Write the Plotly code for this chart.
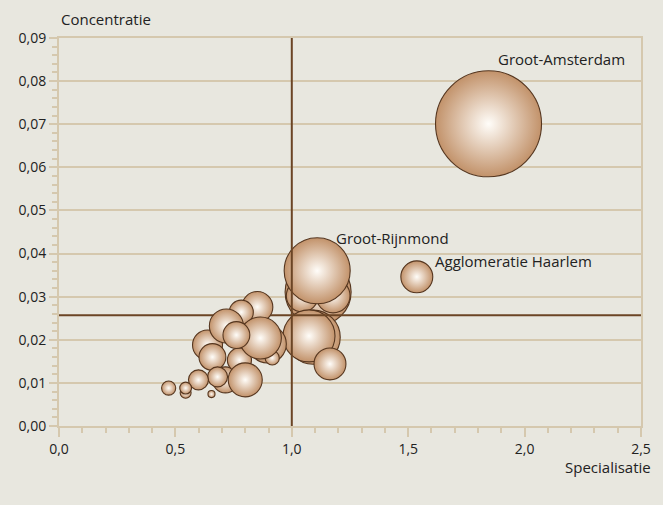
import plotly.graph_objects as go

# ---- data (back-to-front drawing order) ----
# bubbles right of the national average (drawn beneath the reference lines)
regio_r = ["", "", "", "Groot-Rijnmond", "", "", "", "Agglomeratie Haarlem", "Groot-Amsterdam"]
spec_r = [1.113, 1.045, 1.177, 1.109, 1.092, 1.074, 1.164, 1.537, 1.845]
conc_r = [0.0311, 0.0302, 0.0302, 0.0360, 0.0206, 0.0209, 0.0144, 0.0346, 0.0701]
werk_r = [218, 51, 58, 218, 146, 135, 51, 51, 562]

# bubbles left of the national average (drawn on top of the reference lines)
spec_l = [0.895, 0.638, 0.715, 0.775, 0.916, 0.544, 0.852, 0.783, 0.719, 0.865,
          0.762, 0.659, 0.681, 0.599, 0.800, 0.471, 0.544, 0.655]
conc_l = [0.0190, 0.0188, 0.0107, 0.0153, 0.0158, 0.0077, 0.0276, 0.0264, 0.0232, 0.0204,
          0.0211, 0.0160, 0.0114, 0.0107, 0.0107, 0.0088, 0.0088, 0.0074]
werk_l = [72, 45, 34, 29, 10, 6, 48, 29, 58, 88,
          36, 36, 20, 20, 58, 10, 7, 2.5]

ref_spec = 1.0
ref_conc = 0.0257
x_range = [0.0, 2.5]
y_range = [0.0, 0.09]

BG = "#e8e7df"
GRID = "#d5c8ae"
EDGE = "#c2926a"
CENTER = "#fffdf9"
OUTLINE = "#55361f"
REF = "#6b4525"
FONT = "Open Sans"

marker_style = dict(
    color=EDGE,
    sizemode="area",
    sizeref=0.1,
    line=dict(color=OUTLINE, width=1.1),
    gradient=dict(type="radial", color=CENTER),
    opacity=1,
)

fig = go.Figure()
fig.add_trace(go.Scatter(x=spec_r, y=conc_r, mode="markers",
                         marker=dict(size=werk_r, **marker_style),
                         hoverinfo="skip", showlegend=False))
fig.add_trace(go.Scatter(x=[ref_spec, ref_spec], y=y_range, mode="lines",
                         line=dict(color=REF, width=2), hoverinfo="skip", showlegend=False))
fig.add_trace(go.Scatter(x=x_range, y=[ref_conc, ref_conc], mode="lines",
                         line=dict(color=REF, width=2), hoverinfo="skip", showlegend=False))
fig.add_trace(go.Scatter(x=spec_l, y=conc_l, mode="markers",
                         marker=dict(size=werk_l, **marker_style),
                         hoverinfo="skip", showlegend=False))

# labels
offsets = {"Groot-Amsterdam": (7, 65), "Groot-Rijnmond": (17, 33), "Agglomeratie Haarlem": (16, 16)}
for name, xv, yv in zip(regio_r, spec_r, conc_r):
    if name:
        dx, dy = offsets[name]
        fig.add_annotation(x=xv, y=yv, text=name, showarrow=False, xanchor="left",
                           yanchor="middle", xshift=dx, yshift=dy,
                           font=dict(family=FONT, size=15, color="#222222"))

fig.add_annotation(xref="paper", yref="paper", x=0, y=1, yshift=7, text="Concentratie",
                   showarrow=False, xanchor="left", yanchor="bottom",
                   font=dict(family=FONT, size=15, color="#222222"))
fig.add_annotation(xref="paper", yref="paper", x=1, y=0, yshift=-29, xshift=12,
                   text="Specialisatie", showarrow=False, xanchor="right", yanchor="top",
                   font=dict(family=FONT, size=15, color="#222222"))

fig.update_layout(
    width=663, height=505,
    margin=dict(l=59, r=20, t=38, b=79),
    paper_bgcolor=BG, plot_bgcolor=BG,
    separators=",.",
    font=dict(family=FONT, size=14, color="#222222"),
    hovermode=False,
)
fig.update_xaxes(range=x_range, dtick=0.5, tick0=0, tickformat=".1f",
                 showgrid=False, zeroline=False,
                 showline=True, linecolor=GRID, linewidth=2, mirror=True,
                 ticks="outside", ticklen=9, tickwidth=1.5, tickcolor=GRID,
                 minor=dict(dtick=0.1, ticks="outside", ticklen=5, tickwidth=1.5,
                            tickcolor=GRID, showgrid=False),
                 tickfont=dict(family=FONT, size=14))
fig.update_yaxes(range=y_range, dtick=0.01, tick0=0, tickformat=".2f",
                 showgrid=True, gridcolor=GRID, gridwidth=1.5, zeroline=False,
                 showline=True, linecolor=GRID, linewidth=2, mirror=True,
                 ticks="outside", ticklen=8, tickwidth=1.5, tickcolor=GRID,
                 minor=dict(dtick=0.002, ticks="outside", ticklen=5, tickwidth=1.5,
                            tickcolor=GRID, showgrid=False),
                 tickfont=dict(family=FONT, size=14))

fig.write_html("out.html", config={"displayModeBar": False},
               post_script="document.body.style.margin='0';document.body.style.background='" + BG + "';")
